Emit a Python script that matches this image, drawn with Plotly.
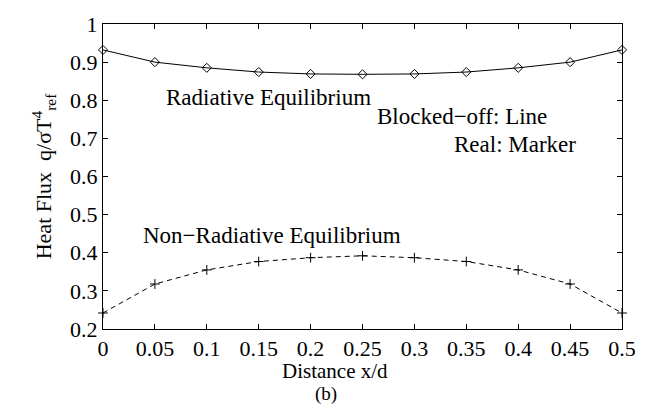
import plotly.graph_objects as go

# Wall heat flux along the enclosure, x/d from 0 to 0.5
distance = [0, 0.05, 0.1, 0.15, 0.2, 0.25, 0.3, 0.35, 0.4, 0.45, 0.5]
radiative_eq = [0.932, 0.900, 0.885, 0.874, 0.869, 0.868, 0.869, 0.874, 0.885, 0.900, 0.932]
non_radiative_eq = [0.242, 0.318, 0.355, 0.377, 0.387, 0.392, 0.387, 0.377, 0.355, 0.318, 0.242]

x_ticks = [0, 0.05, 0.1, 0.15, 0.2, 0.25, 0.3, 0.35, 0.4, 0.45, 0.5]
x_tick_labels = ["0", "0.05", "0.1", "0.15", "0.2", "0.25", "0.3", "0.35", "0.4", "0.45", "0.5"]
y_ticks = [0.2, 0.3, 0.4, 0.5, 0.6, 0.7, 0.8, 0.9, 1.0]
y_tick_labels = ["0.2", "0.3", "0.4", "0.5", "0.6", "0.7", "0.8", "0.9", "1"]

FONT = "Liberation Serif"
W, H = 648, 410
ML, MR, MT, MB = 103, 20, 20, 81
PW, PH = W - ML - MR, H - MT - MB


def to_paper(px, py):
    """Pixel position on the page -> paper coordinates."""
    return (px - ML) / PW, (H - MB - py) / PH


fig = go.Figure()

# Blocked-off solution drawn as lines
fig.add_trace(go.Scatter(x=distance, y=radiative_eq, mode="lines",
                         line=dict(color="black", width=1), showlegend=False))
fig.add_trace(go.Scatter(x=distance, y=non_radiative_eq, mode="lines",
                         line=dict(color="black", width=1, dash="5px,4px"), showlegend=False))
# Real-geometry solution drawn as markers
fig.add_trace(go.Scatter(x=distance, y=radiative_eq, mode="markers",
                         marker=dict(symbol="diamond-open", size=7, color="black",
                                     line=dict(width=1, color="black")),
                         showlegend=False, cliponaxis=False))
fig.add_trace(go.Scatter(x=distance, y=non_radiative_eq, mode="markers",
                         marker=dict(symbol="cross-thin-open", size=7, color="black",
                                     line=dict(width=1, color="black")),
                         showlegend=False, cliponaxis=False))

axis_common = dict(showline=True, linecolor="black", linewidth=1, mirror="ticks",
                   ticks="inside", ticklen=5, tickcolor="black", tickwidth=1,
                   showgrid=False, zeroline=False,
                   tickfont=dict(family=FONT, size=22, color="black"))

fig.update_xaxes(range=[0, 0.5], tickvals=x_ticks, ticktext=x_tick_labels,
                 ticklabelstandoff=0, **axis_common)
fig.update_yaxes(range=[0.2, 1.0], tickvals=y_ticks, ticktext=y_tick_labels,
                 title=dict(text="Heat Flux  q/σT<sup>4</sup><sub>ref</sub>",
                            font=dict(family=FONT, size=22, color="black"), standoff=12),
                 **axis_common)

# Text labels placed by pixel centre
labels = [
    ("Radiative Equilibrium", 270, 94, 23),
    ("Blocked\u2212off: Line", 466, 114, 23),
    ("Real: Marker", 520, 142, 23),
    ("Non\u2212Radiative Equilibrium", 274, 234, 23),
    ("Distance x/d", 338, 372, 21),
    ("(b)", 329, 395, 19),
]
for txt, px, py, size in labels:
    xp, yp = to_paper(px, py)
    fig.add_annotation(x=xp, y=yp, xref="paper", yref="paper", text=txt,
                       showarrow=False, xanchor="center", yanchor="middle",
                       font=dict(family=FONT, size=size, color="black"))

fig.update_layout(width=W, height=H,
                  margin=dict(l=ML, r=MR, t=MT, b=MB),
                  paper_bgcolor="white", plot_bgcolor="white",
                  font=dict(family=FONT, color="black"))

fig.write_html("out.html")
